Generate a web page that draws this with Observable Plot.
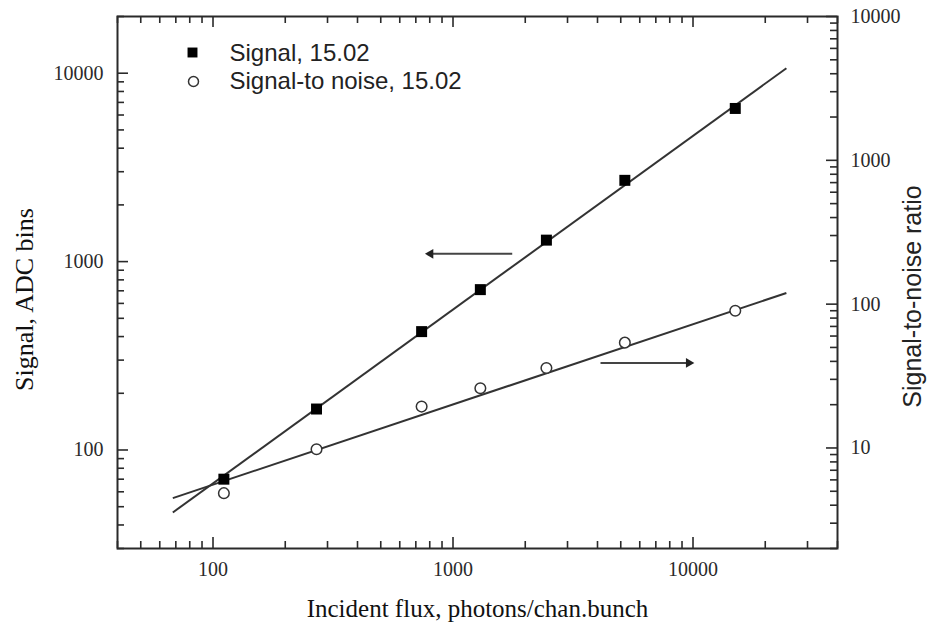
<!DOCTYPE html>
<html>
<head>
<meta charset="utf-8">
<script src="https://cdn.jsdelivr.net/npm/d3@7"></script>
<script src="https://cdn.jsdelivr.net/npm/@observablehq/plot@0.6"></script>
<style>
  html, body { margin: 0; padding: 0; background: #fff; }
  #chart { width: 932px; height: 628px; }
</style>
</head>
<body>
<div id="chart"></div>
<script>
// Measured points (bunch 15.02)
const flux = [111, 270, 740, 1300, 2450, 5200, 15000];
const signal = [70, 165, 425, 710, 1300, 2700, 6500];
const snr = [4.85, 9.8, 19.4, 26, 36, 54, 90];

// Power-law fit lines (end points)
const fitFlux = [68, 24500];
const signalFit = [46.6, 10630];
const snrFit = [4.48, 119.5];

// Axis ranges and labelled ticks
const fluxDomain = [40, 40000];
const signalDomain = [30, 20000];
const snrDomain = [2, 10000];
const fluxMajor = [100, 1000, 10000];
const signalMajor = [100, 1000, 10000];
const snrMajor = [10, 100, 1000, 10000];

// Arrows pointing each curve to its axis
const signalArrow = {from: 1765, to: 806, level: 1100};
const snrArrow = {from: 4117, to: 9600, level: 39};

// Legend entries
const legendLabels = ["Signal, 15.02", "Signal-to noise, 15.02"];

const xLabel = "Incident flux, photons/chan.bunch";
const yLeftLabel = "Signal, ADC bins";
const yRightLabel = "Signal-to-noise ratio";

// The signal-to-noise axis shares the plot's y scale: map its log range onto the signal log range
const L0 = Math.log10(signalDomain[0]), L1 = Math.log10(signalDomain[1]);
const R0 = Math.log10(snrDomain[0]), R1 = Math.log10(snrDomain[1]);
const snrToY = v => Math.pow(10, L0 + (Math.log10(v) - R0) * (L1 - L0) / (R1 - R0));

const W = 932, H = 628, mL = 117, mR = 95, mT = 16, mB = 80;
const fw = W - mL - mR, fh = H - mT - mB;
const majorLen = 11, minorLen = 7;
const ink = "#2a2a2a";
const serif = "'Liberation Serif', 'Times New Roman', serif";
const sans = "'Liberation Sans', Arial, sans-serif";

const minorOf = (domain, majors) =>
  d3.scaleLog().domain(domain).ticks().filter(t => !majors.includes(t));
const fluxMinor = minorOf(fluxDomain, fluxMajor);
const signalMinor = minorOf(signalDomain, signalMajor);
const snrMinor = minorOf(snrDomain, snrMajor);

const points = flux.map((f, i) => ({flux: f, signal: signal[i], snrY: snrToY(snr[i])}));
const fits = [
  {x1: fitFlux[0], x2: fitFlux[1], y1: signalFit[0], y2: signalFit[1]},
  {x1: fitFlux[0], x2: fitFlux[1], y1: snrToY(snrFit[0]), y2: snrToY(snrFit[1])}
];
const arrows = [
  {x1: signalArrow.from, x2: signalArrow.to, y: signalArrow.level, rot: -90},
  {x1: snrArrow.from, x2: snrArrow.to, y: snrToY(snrArrow.level), rot: 90}
];
const snrTickLabels = snrMajor.map(v => ({y: snrToY(v), label: d3.format("d")(v)}));

// Inward ticks on all four sides of the frame
const tickStyle = {stroke: ink, strokeWidth: 1.6};
const ticksBottom = (vals, len) => Plot.tickX(vals, {x: d => d, insetTop: fh - len, ...tickStyle});
const ticksTop = (vals, len) => Plot.tickX(vals, {x: d => d, insetBottom: fh - len, ...tickStyle});
const ticksLeft = (vals, len) => Plot.tickY(vals, {y: d => d, insetRight: fw - len, ...tickStyle});
const ticksRight = (vals, len) => Plot.tickY(vals, {y: d => d, insetLeft: fw - len, ...tickStyle});

const chart = Plot.plot({
  width: W, height: H,
  marginLeft: mL, marginRight: mR, marginTop: mT, marginBottom: mB,
  style: {fontFamily: serif, fontSize: "20px", background: "#fff", color: ink},
  x: {type: "log", domain: fluxDomain},
  y: {type: "log", domain: signalDomain},
  marks: [
    ticksBottom(fluxMajor, majorLen), ticksBottom(fluxMinor, minorLen),
    ticksTop(fluxMajor, majorLen), ticksTop(fluxMinor, minorLen),
    ticksLeft(signalMajor, majorLen), ticksLeft(signalMinor, minorLen),
    ticksRight(snrMajor.map(snrToY), majorLen), ticksRight(snrMinor.map(snrToY), minorLen),
    Plot.frame({stroke: ink, strokeWidth: 2}),
    Plot.axisX({ticks: fluxMajor, tickSize: 0, tickPadding: 13, tickFormat: d3.format("d"), label: null, fontSize: 20}),
    Plot.axisY({ticks: signalMajor, tickSize: 0, tickPadding: 14, tickFormat: d3.format("d"), label: null, fontSize: 20}),
    // right-hand signal-to-noise tick labels
    Plot.text(snrTickLabels, {y: "y", text: "label", frameAnchor: "right", dx: 13, textAnchor: "start",
      fontSize: 20, fill: ink}),
    // fit lines
    Plot.link(fits, {x1: "x1", y1: "y1", x2: "x2", y2: "y2", stroke: "#333", strokeWidth: 2}),
    // data
    Plot.dot(points, {x: "flux", y: "signal", symbol: "square", r: 6.2, fill: "#000", stroke: "none"}),
    Plot.dot(points, {x: "flux", y: "snrY", symbol: "circle", r: 5.3, fill: "#fff", stroke: "#333", strokeWidth: 1.5}),
    // arrows
    Plot.link(arrows, {x1: "x1", x2: "x2", y1: "y", y2: "y", stroke: "#444", strokeWidth: 2}),
    Plot.dot(arrows, {x: "x2", y: "y", symbol: "triangle", r: 3.6, rotate: "rot", fill: "#222", stroke: "none"}),
    // legend
    Plot.dot([legendLabels[0]], {frameAnchor: "top-left", dx: 75, dy: 36, symbol: "square", r: 5.6, fill: "#000", stroke: "none"}),
    Plot.dot([legendLabels[1]], {frameAnchor: "top-left", dx: 76, dy: 65, symbol: "circle", r: 5, fill: "#fff", stroke: "#333", strokeWidth: 1.5}),
    Plot.text([legendLabels[0]], {text: d => d, frameAnchor: "top-left", dx: 112, dy: 37, textAnchor: "start",
      lineAnchor: "middle", fontFamily: sans, fontSize: 24, fill: "#222"}),
    Plot.text([legendLabels[1]], {text: d => d, frameAnchor: "top-left", dx: 112, dy: 65, textAnchor: "start",
      lineAnchor: "middle", fontFamily: sans, fontSize: 24, fill: "#222"}),
    // axis titles
    Plot.text([xLabel], {text: d => d, frameAnchor: "bottom", dy: 60, textAnchor: "middle", lineAnchor: "middle",
      fontSize: 25, fill: "#111"}),
    Plot.text([yLeftLabel], {text: d => d, frameAnchor: "left", dx: -93, dy: 17, rotate: -90,
      textAnchor: "middle", lineAnchor: "middle", fontSize: 26, fill: "#111"}),
    Plot.text([yRightLabel], {text: d => d, frameAnchor: "right", dx: 75, dy: 14, rotate: -90,
      textAnchor: "middle", lineAnchor: "middle", fontSize: 25, fontFamily: sans, fill: "#222"})
  ]
});
document.getElementById("chart").appendChild(chart);
</script>
</body>
</html>
